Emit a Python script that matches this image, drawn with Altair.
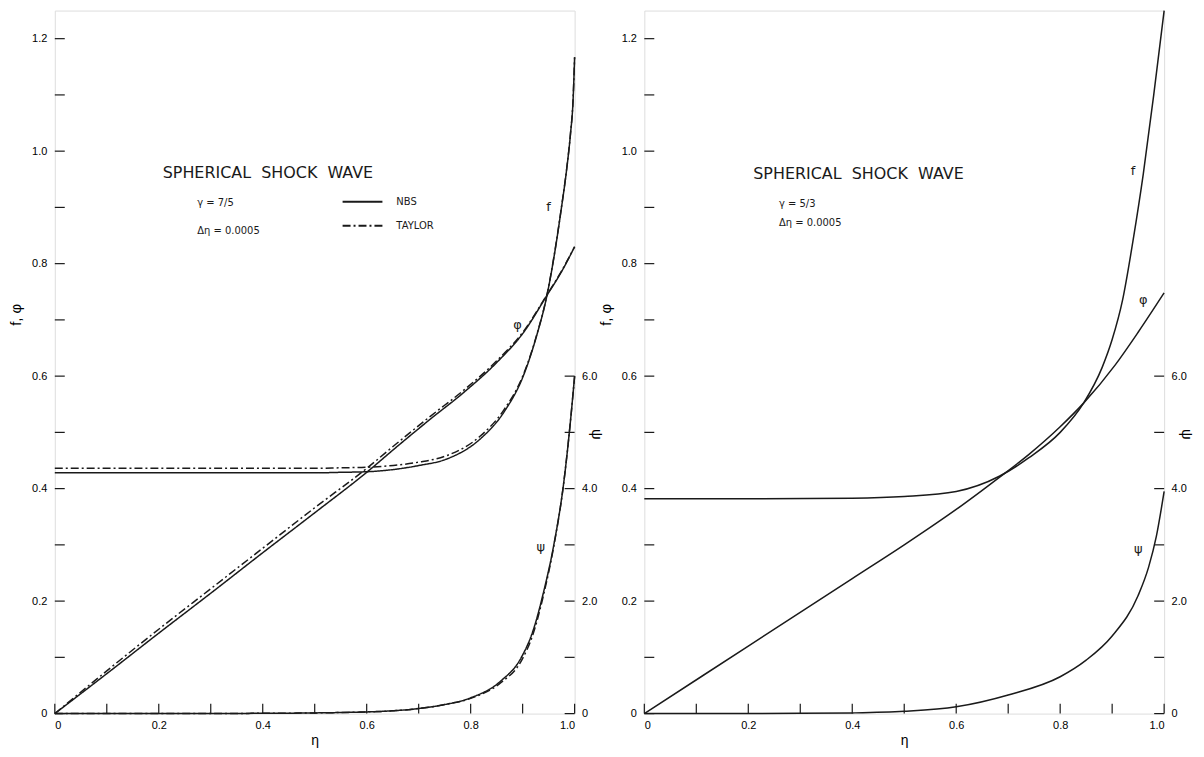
import altair as alt
import pandas as pd

# ---------------- Left panel: gamma = 7/5 (NBS solid, TAYLOR dash-dot) ----------------
L_f_eta = [0.0, 0.1, 0.2, 0.3, 0.4, 0.5, 0.55, 0.6, 0.66, 0.7, 0.755, 0.818, 0.864, 0.902,
           0.927, 0.946, 0.96, 0.974, 0.985, 0.992, 0.997, 1.0]
L_f_nbs = [0.428, 0.428, 0.428, 0.428, 0.428, 0.428, 0.429, 0.430, 0.435, 0.441, 0.453, 0.488,
           0.536, 0.602, 0.672, 0.740, 0.810, 0.895, 0.970, 1.030, 1.090, 1.167]
L_f_tay = [0.436, 0.436, 0.436, 0.436, 0.436, 0.436, 0.437, 0.438, 0.442, 0.447, 0.459, 0.493,
           0.540, 0.604, 0.673, 0.741, 0.811, 0.896, 0.971, 1.031, 1.091, 1.167]

L_phi_eta = [0.0, 0.1, 0.2, 0.3, 0.4, 0.5, 0.6, 0.66, 0.723, 0.788, 0.851, 0.902, 0.947, 0.975, 1.0]
L_phi_nbs = [0.0, 0.071, 0.143, 0.214, 0.286, 0.357, 0.429, 0.476, 0.524, 0.572, 0.625, 0.678,
             0.744, 0.786, 0.830]
L_phi_tay = [0.0, 0.076, 0.150, 0.222, 0.294, 0.366, 0.436, 0.482, 0.529, 0.576, 0.628, 0.680,
             0.745, 0.787, 0.830]

L_psi_eta = [0.0, 0.2, 0.4, 0.5, 0.6, 0.63, 0.70, 0.75, 0.80, 0.858, 0.897, 0.921, 0.94, 0.96,
             0.979, 0.992, 1.0]
L_psi_nbs = [0.0, 0.0, 0.005, 0.012, 0.03, 0.04, 0.09, 0.16, 0.28, 0.58, 0.99, 1.50, 2.15, 3.0,
             4.1, 5.2, 6.0]
L_psi_tay = [0.0, 0.0, 0.005, 0.012, 0.03, 0.04, 0.09, 0.16, 0.27, 0.55, 0.93, 1.44, 2.10, 2.98,
             4.1, 5.2, 6.0]

# ---------------- Right panel: gamma = 5/3 ----------------
R_f_eta = [0.0, 0.2, 0.4, 0.5, 0.6, 0.683, 0.74, 0.80, 0.845, 0.881, 0.90, 0.92, 0.94, 0.96, 0.98, 1.0]
R_f = [0.382, 0.382, 0.383, 0.386, 0.395, 0.422, 0.455, 0.500, 0.552, 0.616, 0.665, 0.735,
       0.840, 0.960, 1.100, 1.250]

R_phi_eta = [0.0, 0.2, 0.4, 0.5, 0.55, 0.6, 0.65, 0.683, 0.74, 0.80, 0.845, 0.906, 0.95, 1.0]
R_phi = [0.0, 0.12, 0.24, 0.30, 0.331, 0.363, 0.397, 0.420, 0.461, 0.510, 0.552, 0.620, 0.678,
         0.748]

R_psi_eta = [0.0, 0.3, 0.4, 0.5, 0.6, 0.7, 0.8, 0.85, 0.9, 0.95, 0.97, 0.985, 1.0]
R_psi = [0.0, 0.004, 0.012, 0.04, 0.12, 0.33, 0.655, 0.95, 1.38, 2.1, 2.6, 3.15, 3.95]

# ---------------- ticks / labels ----------------
X_LABELS = [0.0, 0.2, 0.4, 0.6, 0.8, 1.0]
X_TICKS = [0.0, 0.1, 0.2, 0.3, 0.4, 0.5, 0.6, 0.7, 0.8, 0.9, 1.0]
Y_LABELS = [0.0, 0.2, 0.4, 0.6, 0.8, 1.0, 1.2]
Y_TICKS = [0.0, 0.1, 0.2, 0.3, 0.4, 0.5, 0.6, 0.7, 0.8, 0.9, 1.0, 1.1, 1.2]
PSI_LABELS = [0, 2, 4, 6]
PSI_TICKS = [0, 1, 2, 3, 4, 5, 6]

TITLE = "SPHERICAL\u00a0 SHOCK\u00a0 WAVE"
L_center_text = [TITLE, "f", "φ", "ψ"]
L_center_x = [0.41, 0.95, 0.89, 0.935]
L_center_y = [0.961, 0.90, 0.69, 0.297]
L_center_size = [16, 13, 13, 13]
L_left_text = ["γ = 7/5", "Δη = 0.0005"]
L_left_x = [0.274, 0.274]
L_left_y = [0.908, 0.858]

R_center_text = [TITLE, "f", "φ", "ψ"]
R_center_x = [0.412, 0.94, 0.96, 0.95]
R_center_y = [0.96, 0.965, 0.735, 0.292]
R_center_size = [16, 13, 13, 13]
R_left_text = ["γ = 5/3", "Δη = 0.0005"]
R_left_x = [0.259, 0.259]
R_left_y = [0.906, 0.873]

W, H = 522, 706
FONT = "DejaVu Sans"
INK = "#1a1a1a"
LW = 1.5


def long_df(eta, vals, curve, method):
    return pd.DataFrame({"eta": eta, "value": vals, "curve": curve, "method": method})


xs = alt.Scale(domain=[0, 1], nice=False, zero=False)
ys = alt.Scale(domain=[0, 1.25], nice=False, zero=False)
ps = alt.Scale(domain=[0, 12.5], nice=False, zero=False)

LBL = "datum.value == 0 ? '0' : format(datum.value, '.1f')"

x_axis = alt.Axis(values=X_LABELS, labelExpr=LBL, ticks=False, domain=False, grid=False,
                  title="η", labelPadding=6, titlePadding=3, labelFontSize=11, titleFontSize=14,
                  titleFontWeight="normal")
y_axis = alt.Axis(values=Y_LABELS, labelExpr=LBL, ticks=False, domain=False, grid=False,
                  title="f, φ", labelPadding=8, titleX=-39, titleY=305, titleAngle=-90,
                  titleAlign="center", titleBaseline="middle", labelFontSize=11, titleFontSize=15,
                  titleFontWeight="normal")
psi_axis = alt.Axis(orient="right", values=PSI_LABELS, labelExpr=LBL, ticks=False, domain=False,
                    grid=False, title="ψ", labelPadding=7, titleX=22, titleY=425, titleAngle=90,
                    titleAlign="center", titleBaseline="middle", labelFontSize=11, titleFontSize=15,
                    titleFontWeight="normal")

dash_scale = alt.Scale(domain=["NBS", "TAYLOR"], range=[[1, 0], [8, 3, 2, 3]])
dash_legend = alt.Legend(title=None, orient="none", legendX=288, legendY=186, symbolType="stroke",
                         symbolSize=1600, symbolStrokeWidth=2, symbolStrokeColor=INK,
                         clipHeight=12, labelFontSize=10, labelFont=FONT, labelColor=INK,
                         labelOffset=13, rowPadding=12, padding=0)


def panel(fphi_df, psi_df, ctext, cx, cy, csize, ltext, lx, ly, dashed):
    line_kw = dict(color=INK, strokeWidth=LW, interpolate="monotone")
    enc_extra = {}
    if dashed:
        enc_extra["strokeDash"] = alt.StrokeDash("method:N", scale=dash_scale, legend=dash_legend)
    fphi = alt.Chart(fphi_df).mark_line(**line_kw).encode(
        x=alt.X("eta:Q", scale=xs, axis=x_axis),
        y=alt.Y("value:Q", scale=ys, axis=y_axis),
        detail="curve:N", **enc_extra)
    xt = alt.Chart(pd.DataFrame({"t": X_TICKS})).mark_rule(color=INK, strokeWidth=1.2).encode(
        x=alt.X("t:Q", scale=xs, axis=x_axis), y=alt.value(H), y2=alt.value(H - 10))
    yt = alt.Chart(pd.DataFrame({"t": Y_TICKS})).mark_rule(color=INK, strokeWidth=1.2).encode(
        y=alt.Y("t:Q", scale=ys, axis=y_axis), x=alt.value(0), x2=alt.value(10))
    tc = alt.Chart(pd.DataFrame({"label": ctext, "x": cx, "y": cy, "s": csize})).mark_text(
        font=FONT, color=INK, align="center", baseline="middle").encode(
        x=alt.X("x:Q", scale=xs, axis=x_axis), y=alt.Y("y:Q", scale=ys, axis=y_axis),
        text="label:N", size=alt.Size("s:Q", scale=None, legend=None))
    tl = alt.Chart(pd.DataFrame({"label": ltext, "x": lx, "y": ly})).mark_text(
        font=FONT, color=INK, align="left", baseline="middle", fontSize=10).encode(
        x=alt.X("x:Q", scale=xs, axis=x_axis), y=alt.Y("y:Q", scale=ys, axis=y_axis),
        text="label:N")
    left_group = alt.layer(fphi, xt, yt, tc, tl)

    psi = alt.Chart(psi_df).mark_line(**line_kw).encode(
        x=alt.X("eta:Q", scale=xs, axis=x_axis),
        y=alt.Y("value:Q", scale=ps, axis=psi_axis),
        detail="curve:N", **enc_extra)
    pt = alt.Chart(pd.DataFrame({"t": PSI_TICKS})).mark_rule(color=INK, strokeWidth=1.2).encode(
        y=alt.Y("t:Q", scale=ps, axis=psi_axis), x=alt.value(W - 10), x2=alt.value(W))
    right_group = alt.layer(psi, pt)
    return alt.layer(left_group, right_group).resolve_scale(y="independent").properties(
        width=W, height=H)


left_fphi = pd.concat([
    long_df(L_f_eta, L_f_nbs, "f_nbs", "NBS"),
    long_df(L_f_eta, L_f_tay, "f_tay", "TAYLOR"),
    long_df(L_phi_eta, L_phi_nbs, "phi_nbs", "NBS"),
    long_df(L_phi_eta, L_phi_tay, "phi_tay", "TAYLOR"),
])
left_psi = pd.concat([
    long_df(L_psi_eta, L_psi_nbs, "psi_nbs", "NBS"),
    long_df(L_psi_eta, L_psi_tay, "psi_tay", "TAYLOR"),
])
right_fphi = pd.concat([
    long_df(R_f_eta, R_f, "f", "NBS"),
    long_df(R_phi_eta, R_phi, "phi", "NBS"),
])
right_psi = long_df(R_psi_eta, R_psi, "psi", "NBS")

left = panel(left_fphi, left_psi, L_center_text, L_center_x, L_center_y, L_center_size,
             L_left_text, L_left_x, L_left_y, True)
right = panel(right_fphi, right_psi, R_center_text, R_center_x, R_center_y, R_center_size,
              R_left_text, R_left_x, R_left_y, False)

chart = alt.hconcat(left, right, spacing=70, bounds="flush").properties(
    padding={"left": 0, "top": -3, "right": 2, "bottom": 0}
).configure_view(stroke=INK, strokeWidth=1.4).configure_axis(
    labelFont=FONT, titleFont=FONT, labelColor="#2a2a2a", titleColor=INK, titleFontWeight="normal"
).configure(background="white")

chart.save("out.html", embed_options={"renderer": "svg", "actions": False})
